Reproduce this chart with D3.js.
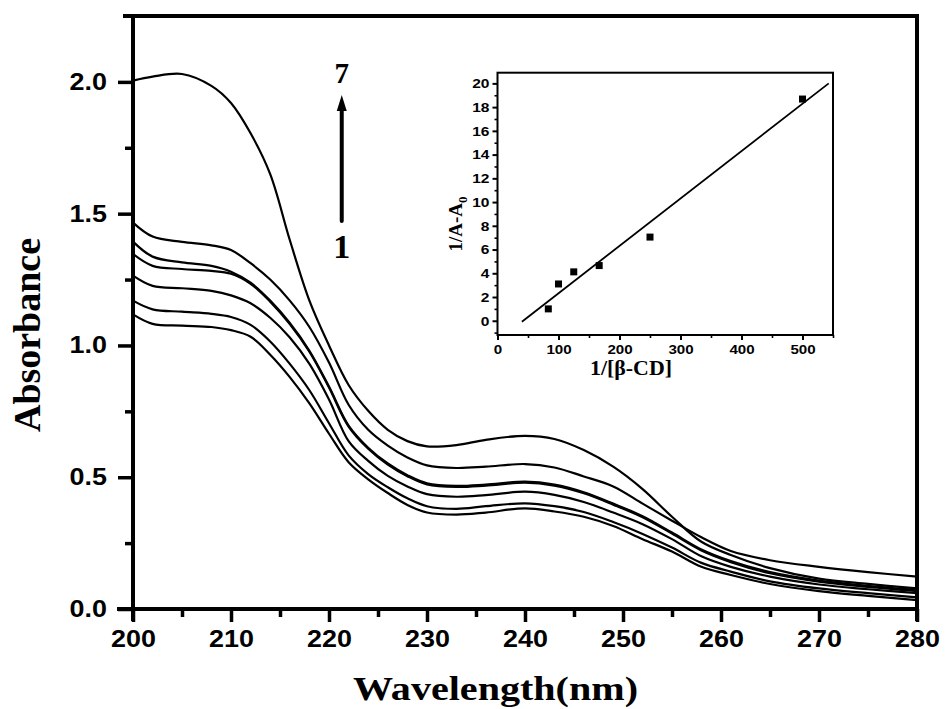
<!DOCTYPE html>
<html><head><meta charset="utf-8">
<script src="https://cdn.jsdelivr.net/npm/d3@7"></script>
<style>
html,body{margin:0;padding:0;background:#fff;}
svg{display:block;}
</style></head>
<body>
<svg id="chart" width="947" height="709"></svg>
<script>
// ---- main chart data ----
const wavelengths = [200,202,205,208,210,212,214,216,218,220,222,224,226,228,230,233,236,240,243,246,249,252,255,258,261,265,270,275,280];
const abs1 = [1.118,1.082,1.075,1.07,1.058,1.033,0.965,0.88,0.78,0.665,0.557,0.492,0.44,0.395,0.366,0.358,0.366,0.382,0.37,0.35,0.315,0.265,0.218,0.16,0.129,0.095,0.068,0.050,0.034];
const abs2 = [1.17,1.137,1.128,1.12,1.108,1.078,1.015,0.93,0.83,0.705,0.583,0.512,0.462,0.42,0.39,0.38,0.39,0.401,0.39,0.368,0.33,0.285,0.233,0.175,0.142,0.105,0.078,0.060,0.044];
const abs3 = [1.265,1.226,1.217,1.207,1.19,1.16,1.105,1.03,0.93,0.795,0.637,0.562,0.505,0.465,0.436,0.426,0.432,0.445,0.433,0.406,0.366,0.322,0.265,0.20,0.16,0.123,0.093,0.075,0.060];
const abs4 = [1.347,1.302,1.29,1.283,1.272,1.234,1.166,1.081,0.976,0.84,0.692,0.608,0.548,0.504,0.473,0.463,0.468,0.479,0.468,0.439,0.396,0.348,0.286,0.222,0.178,0.136,0.104,0.084,0.068];
const abs5 = [1.394,1.337,1.315,1.302,1.28,1.238,1.17,1.085,0.98,0.844,0.696,0.612,0.552,0.508,0.477,0.467,0.472,0.483,0.472,0.443,0.40,0.352,0.29,0.226,0.182,0.14,0.108,0.088,0.072];
const abs6 = [1.466,1.413,1.393,1.38,1.362,1.312,1.25,1.17,1.07,0.935,0.775,0.68,0.62,0.575,0.545,0.535,0.54,0.55,0.537,0.503,0.465,0.40,0.335,0.272,0.22,0.185,0.16,0.14,0.123];
const abs7 = [2.005,2.02,2.03,1.985,1.92,1.805,1.65,1.40,1.17,1.00,0.85,0.752,0.68,0.637,0.617,0.622,0.642,0.657,0.645,0.603,0.54,0.455,0.35,0.255,0.205,0.155,0.115,0.095,0.078];
const xMajorTicks = [200,210,220,230,240,250,260,270,280];
const xMinorTicks = [205,215,225,235,245,255,265,275];
const yMajorTicks = [0,0.5,1.0,1.5,2.0];
const yMinorTicks = [0.25,0.75,1.25,1.75];
// arrow annotation (wavelength, absorbance)
const arrowX = [221.3];
const arrowY = [1.465, 1.95];
const arrowLabels = ["1","7"];

// ---- inset data ----
const invConc = [83.3,100,125,166.7,250,500];
const invDeltaA = [1.0,3.1,4.12,4.65,7.05,18.68];
const fitX = [40,543];
const fitY = [-0.08,20.0];
const insetXTicks = [0,100,200,300,400,500];
const insetXMinor = [50,150,250,350,450,550];
const insetYTicks = [0,2,4,6,8,10,12,14,16,18,20];
const insetYMinor = [-1,1,3,5,7,9,11,13,15,17,19];

const svg = d3.select("#chart");
const sans = "'Liberation Sans', Arial, sans-serif";
const serif = "'Liberation Serif', 'Times New Roman', serif";

// main scales
const x = d3.scaleLinear().domain([200,280]).range([133,917]);
const y = d3.scaleLinear().domain([0,2.25]).range([609,16]);

function stretch(sel, k){
  sel.each(function(){
    const L = this.getComputedTextLength();
    d3.select(this).attr("textLength", L*k).attr("lengthAdjust","spacingAndGlyphs");
  });
}
const AX = 4, TK = 3.5;

// curves
const line = d3.line().x((d)=>x(d[0])).y((d)=>y(d[1])).curve(d3.curveCatmullRom.alpha(0.5));
const series = [abs1,abs2,abs3,abs4,abs5,abs6,abs7];
svg.append("g").selectAll("path").data(series).join("path")
  .attr("d", s => line(wavelengths.map((w,i)=>[w,s[i]])))
  .attr("fill","none").attr("stroke","#000").attr("stroke-width",2.2).attr("stroke-linejoin","round");

// frame drawn as filled rectangles (robust thick lines)
const frame = svg.append("g").attr("fill","#000");
frame.append("rect").attr("x",x(200)-10).attr("y",y(2.25)-AX/2).attr("width",x(280)-x(200)+10+AX/2).attr("height",AX);
frame.append("rect").attr("x",x(280)-AX/2).attr("y",y(2.25)-AX/2).attr("width",AX).attr("height",y(0)+12-y(2.25)+AX/2);
frame.append("rect").attr("x",x(200)-AX/2).attr("y",y(2.25)-AX/2).attr("width",AX).attr("height",y(0)+12-y(2.25)+AX/2);
frame.append("rect").attr("x",x(200)-16).attr("y",y(0)-AX/2).attr("width",x(280)-x(200)+16).attr("height",AX);

// x axis (ticks as thick strokes)
const gx = svg.append("g").attr("transform",`translate(0,${y(0)})`)
  .call(d3.axisBottom(x).tickValues(xMajorTicks).tickFormat(d3.format("d")).tickSize(13).tickPadding(9));
gx.select(".domain").remove();
gx.selectAll(".tick line").attr("stroke","#000").attr("stroke-width",TK);
gx.selectAll("text").attr("font-family",sans).attr("font-weight","bold").attr("font-size",23).attr("fill","#000");
const gxm = svg.append("g").attr("transform",`translate(0,${y(0)})`)
  .call(d3.axisBottom(x).tickValues(xMinorTicks).tickFormat("").tickSize(8));
gxm.select(".domain").remove();
gxm.selectAll(".tick line").attr("stroke","#000").attr("stroke-width",TK);

// y axis
const gy = svg.append("g").attr("transform",`translate(${x(200)},0)`)
  .call(d3.axisLeft(y).tickValues(yMajorTicks).tickFormat(d3.format(".1f")).tickSize(15).tickPadding(11));
gy.select(".domain").remove();
gy.selectAll(".tick line").attr("stroke","#000").attr("stroke-width",TK);
gy.selectAll("text").attr("font-family",sans).attr("font-weight","bold").attr("font-size",23).attr("fill","#000");
const gym = svg.append("g").attr("transform",`translate(${x(200)},0)`)
  .call(d3.axisLeft(y).tickValues(yMinorTicks).tickFormat("").tickSize(8));
gym.select(".domain").remove();
gym.selectAll(".tick line").attr("stroke","#000").attr("stroke-width",TK);

// axis titles
const xt = svg.append("text").attr("x",(353+638)/2).attr("y",700).attr("text-anchor","middle")
  .attr("font-family",serif).attr("font-weight","bold").attr("font-size",33).text("Wavelength(nm)");
xt.attr("textLength",285).attr("lengthAdjust","spacingAndGlyphs");
const yt = svg.append("text").attr("transform","translate(40,335) rotate(-90)").attr("text-anchor","middle")
  .attr("font-family",serif).attr("font-weight","bold").attr("font-size",38).text("Absorbance");
yt.attr("textLength",194).attr("lengthAdjust","spacingAndGlyphs");

// arrow
const ax = x(arrowX[0]);
svg.append("rect").attr("x",ax-2).attr("y",y(arrowY[1])+12).attr("width",4).attr("height",y(arrowY[0])-y(arrowY[1])-12).attr("rx",2).attr("fill","#000");
svg.append("path").attr("d",`M${ax},${y(arrowY[1])}L${ax-5},${y(arrowY[1])+16}L${ax+5},${y(arrowY[1])+16}Z`).attr("fill","#000");
svg.append("text").attr("x",ax).attr("y",y(arrowY[0])+35).attr("text-anchor","middle")
  .attr("font-family",serif).attr("font-weight","bold").attr("font-size",34).text(arrowLabels[0]);
svg.append("text").attr("x",ax).attr("y",y(arrowY[1])-12).attr("text-anchor","middle")
  .attr("font-family",serif).attr("font-weight","bold").attr("font-size",29).text(arrowLabels[1]);

// ---- inset ----
const ix = d3.scaleLinear().domain([0,550]).range([497.5,833]);
const iy = d3.scaleLinear().domain([-1.2,20.9]).range([335,72.7]);
const ins = svg.append("g");
ins.append("rect").attr("x",ix(0)).attr("y",iy(20.9)).attr("width",ix(550)-ix(0)).attr("height",iy(-1.2)-iy(20.9))
  .attr("fill","none").attr("stroke","#000").attr("stroke-width",2);
const igx = ins.append("g").attr("transform",`translate(0,${iy(-1.2)})`)
  .call(d3.axisBottom(ix).tickValues(insetXTicks).tickFormat(d3.format("d")).tickSize(5).tickPadding(4));
igx.select(".domain").remove();
igx.selectAll(".tick line").attr("stroke","#000").attr("stroke-width",2);
igx.selectAll("text").attr("font-family",sans).attr("font-weight","bold").attr("font-size",13.5).attr("fill","#000");
const igxm = ins.append("g").attr("transform",`translate(0,${iy(-1.2)})`)
  .call(d3.axisBottom(ix).tickValues(insetXMinor).tickFormat("").tickSize(3));
igxm.select(".domain").remove();
igxm.selectAll(".tick line").attr("stroke","#000").attr("stroke-width",1.6);
const igy = ins.append("g").attr("transform",`translate(${ix(0)},0)`)
  .call(d3.axisLeft(iy).tickValues(insetYTicks).tickFormat(d3.format("d")).tickSize(5).tickPadding(3));
igy.select(".domain").remove();
igy.selectAll(".tick line").attr("stroke","#000").attr("stroke-width",2);
igy.selectAll("text").attr("font-family",sans).attr("font-weight","bold").attr("font-size",13.5).attr("fill","#000");
const igym = ins.append("g").attr("transform",`translate(${ix(0)},0)`)
  .call(d3.axisLeft(iy).tickValues(insetYMinor).tickFormat("").tickSize(3));
igym.select(".domain").remove();
igym.selectAll(".tick line").attr("stroke","#000").attr("stroke-width",1.6);

ins.append("line").attr("x1",ix(fitX[0])).attr("y1",iy(fitY[0])).attr("x2",ix(fitX[1])).attr("y2",iy(fitY[1]))
  .attr("stroke","#000").attr("stroke-width",1.8);
ins.append("g").selectAll("rect").data(invConc).join("rect")
  .attr("x",(d)=>ix(d)-3.5).attr("y",(d,i)=>iy(invDeltaA[i])-3.5).attr("width",7).attr("height",7).attr("fill","#000");

const ixt = ins.append("text").attr("x",631).attr("y",375).attr("text-anchor","middle")
  .attr("font-family",serif).attr("font-weight","bold").attr("font-size",20).text("1/[β-CD]");
ixt.attr("textLength",82).attr("lengthAdjust","spacingAndGlyphs");
const iyt = ins.append("text").attr("transform","translate(462,224) rotate(-90)").attr("text-anchor","middle")
  .attr("font-family",serif).attr("font-weight","bold").attr("font-size",19);
iyt.append("tspan").text("1/A-A");
iyt.append("tspan").attr("font-size",13).attr("dy",5).text("0");

// horizontal stretch of sans tick labels to match the reference
stretch(gx.selectAll("text"),1.17);
stretch(gy.selectAll("text"),1.17);
stretch(igx.selectAll("text"),1.12);
stretch(igy.selectAll("text"),1.15);
</script>
</body></html>
